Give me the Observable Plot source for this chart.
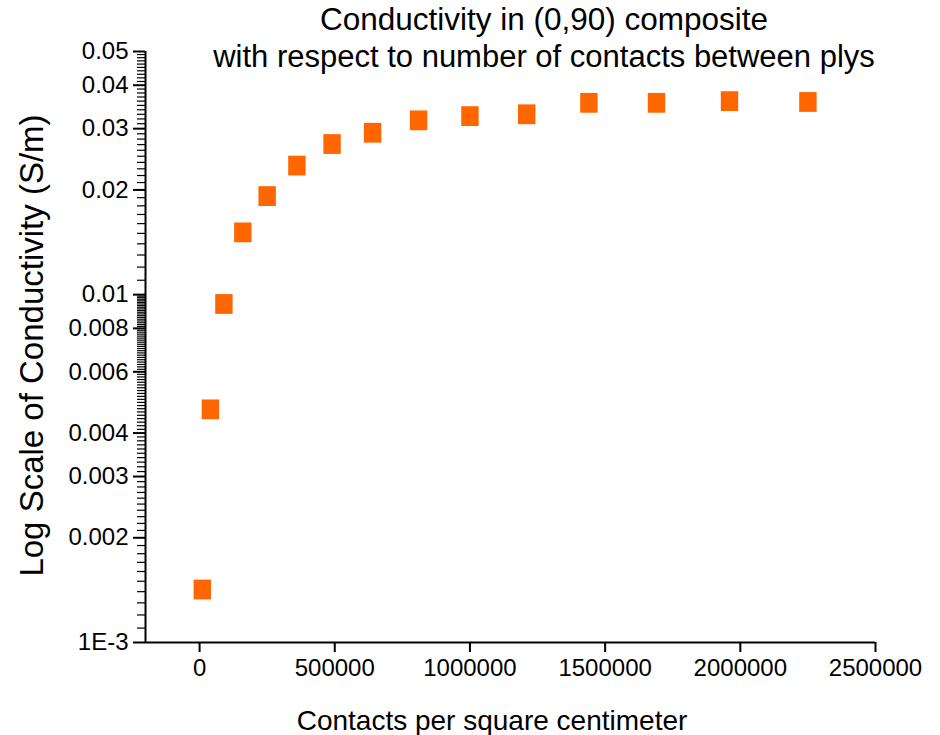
<!DOCTYPE html>
<html><head><meta charset="utf-8">
<script src="https://cdn.jsdelivr.net/npm/d3@7"></script>
<script src="https://cdn.jsdelivr.net/npm/@observablehq/plot@0.6"></script>
<style>
html,body{margin:0;padding:0;background:#fff;}
#chart{width:940px;height:735px;}
svg text{font-family:"Liberation Sans",Arial,sans-serif;}
</style></head><body><div id="chart"></div>
<script>
// ---- data ----
const contacts = [10000, 40000, 90000, 160000, 250000, 360000, 490000, 640000, 810000, 1000000, 1210000, 1440000, 1690000, 1960000, 2250000];
const conductivity = [0.00142, 0.00468, 0.0094, 0.0151, 0.0192, 0.0235, 0.0271, 0.0292, 0.0317, 0.0326, 0.0330, 0.0356, 0.0356, 0.0360, 0.0358];
const xTicks = [0, 500000, 1000000, 1500000, 2000000, 2500000];
const yTicks = [0.001, 0.002, 0.003, 0.004, 0.006, 0.008, 0.01, 0.02, 0.03, 0.04, 0.05];
const yTickLabels = ["1E-3", "0.002", "0.003", "0.004", "0.006", "0.008", "0.01", "0.02", "0.03", "0.04", "0.05"];
const xDomain = [-200000, 2500000];
const yDomain = [0.001, 0.05];
const titleLines = ["Conductivity in (0,90) composite", "with respect to number of contacts between plys"];
const xLabel = "Contacts per square centimeter";
const yLabel = "Log Scale of Conductivity (S/m)";

// minor ticks: 0.0001 steps in the 1E-3 decade, 0.001 steps in the 0.01 decade
const yMinor = [];
for (let i = 11; i < 100; i++) yMinor.push(+(i * 1e-4).toFixed(4));
for (let i = 11; i < 50; i++) yMinor.push(+(i * 1e-3).toFixed(3));
const yMinorTicks = yMinor.filter(v => !yTicks.some(t => Math.abs(t - v) < 1e-9));

const data = contacts.map((c, i) => ({x: c, y: conductivity[i]}));

const rectSymbol = {
  draw(ctx) {
    const w = 8.7, h = 9.9;
    ctx.moveTo(-w, -h); ctx.lineTo(w, -h); ctx.lineTo(w, h); ctx.lineTo(-w, h); ctx.closePath();
  }
};

const FONT = '"Liberation Sans", Arial, sans-serif';

const svg = Plot.plot({
  width: 940,
  height: 735,
  marginLeft: 145,
  marginRight: 65,
  marginTop: 51,
  marginBottom: 93,
  style: {fontFamily: FONT, background: "#fff", color: "#000", overflow: "visible"},
  x: {domain: xDomain, label: null},
  y: {type: "log", domain: yDomain, label: null},
  marks: [
    Plot.axisY(yMinorTicks, {tickSize: 8, text: null, strokeWidth: 1.2, stroke: "#000"}),
    Plot.axisY(yTicks, {tickSize: 12, tickPadding: 5, strokeWidth: 2, stroke: "#000", fill: "#000",
      tickFormat: d => yTickLabels[yTicks.indexOf(d)], fontSize: 24}),
    Plot.axisX(xTicks, {tickSize: 10, tickPadding: 6, strokeWidth: 2, stroke: "#000", fill: "#000",
      tickFormat: d3.format("d"), fontSize: 24}),
    Plot.ruleX([xDomain[0]], {stroke: "#000", strokeWidth: 2}),
    Plot.ruleY([yDomain[0]], {stroke: "#000", strokeWidth: 2}),
    Plot.dot(data, {x: "x", y: "y", symbol: rectSymbol, fill: "#ff6600", stroke: null})
  ]
});

const s = d3.select(svg);
s.append("text").attr("x", 544).attr("y", 30).attr("text-anchor", "middle")
  .attr("font-size", 31.5).attr("fill", "#000").attr("font-family", FONT).text(titleLines[0]);
s.append("text").attr("x", 544).attr("y", 67).attr("text-anchor", "middle")
  .attr("font-size", 31).attr("fill", "#000").attr("font-family", FONT).text(titleLines[1]);
s.append("text").attr("x", 492).attr("y", 730).attr("text-anchor", "middle")
  .attr("font-size", 28).attr("fill", "#000").attr("font-family", FONT).text(xLabel);
s.append("text").attr("transform", "translate(43,345.5) rotate(-90)").attr("text-anchor", "middle")
  .attr("font-size", 33).attr("fill", "#000").attr("font-family", FONT).text(yLabel);

document.getElementById("chart").appendChild(svg);
</script></body></html>
